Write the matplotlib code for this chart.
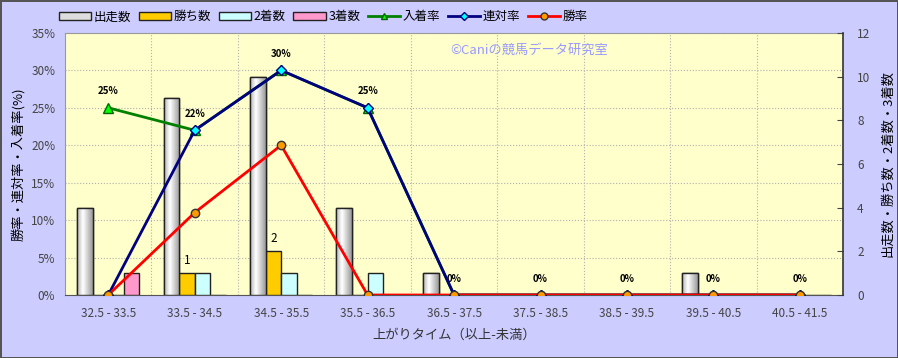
import matplotlib.pyplot as plt
import numpy as np
from matplotlib.patches import Patch
from matplotlib.lines import Line2D

plt.rcParams['font.family'] = ['Noto Sans CJK JP', 'DejaVu Sans']

categories = ["32.5 - 33.5", "33.5 - 34.5", "34.5 - 35.5", "35.5 - 36.5", "36.5 - 37.5",
              "37.5 - 38.5", "38.5 - 39.5", "39.5 - 40.5", "40.5 - 41.5"]
runs = [4, 9, 10, 4, 1, 0, 0, 1, 0]
wins = [0, 1, 2, 0, 0, 0, 0, 0, 0]
seconds = [0, 1, 1, 1, 0, 0, 0, 0, 0]
thirds = [1, 0, 0, 0, 0, 0, 0, 0, 0]
place_rate = [25, 22, 30, 25, 0, 0, 0, 0, 0]
quinella_rate = [0, 22, 30, 25, 0, 0, 0, 0, 0]
win_rate = [0, 11, 20, 0, 0, 0, 0, 0, 0]

x = np.arange(len(categories))
w = 0.18

fig = plt.figure(figsize=(8.98, 3.58), dpi=100)
fig.patch.set_facecolor('#CCCCFF')
fig.patch.set_edgecolor('#555555')
fig.patch.set_linewidth(2)

# background axis: left scale, grid
ax = fig.add_axes([0.0724, 0.176, 0.8665, 0.732])
ax.set_facecolor('#FFFFCC')
ax.set_xlim(-0.5, len(categories) - 0.5)
ax.set_ylim(0, 35)
ax.set_yticks(np.arange(0, 36, 5))
ax.set_yticklabels([f"{v}%" for v in range(0, 36, 5)], color='#444444', fontsize=8.5)
ax.set_xticks(x)
ax.set_xticklabels(categories, color='#444444', fontsize=8.5)
ax.set_xticks(np.arange(0.5, len(categories) - 1, 1), minor=True)
ax.tick_params(axis='both', which='both', length=0)
ax.tick_params(axis='x', pad=9)
ax.tick_params(axis='y', pad=7)
ax.grid(True, axis='y', color='#b0b0b0', linestyle=':', linewidth=0.8)
ax.grid(True, axis='x', which='minor', color='#b0b0b0', linestyle=':', linewidth=0.8)
for s in ['top', 'left']:
    ax.spines[s].set_color('#999999')
ax.spines['bottom'].set_color('#555555')
ax.spines['right'].set_visible(False)
ax.set_ylabel("勝率・連対率・入着率(%)", fontsize=9.5)
ax.set_xlabel("上がりタイム（以上-未満）", fontsize=9.5, color='#333333', labelpad=6)

# bars on right scale
ax2 = ax.twinx()
ax2.set_ylim(0, 12)
ax2.set_yticks(np.arange(0, 13, 2))
ax2.tick_params(axis='y', direction='in', length=4, colors='#444444', labelsize=8.5, pad=10)
ax2.spines['right'].set_color('#333333')
ax2.spines['right'].set_linewidth(1.2)
for s in ['top', 'left', 'bottom']:
    ax2.spines[s].set_visible(False)
ax2.set_ylabel("出走数・勝ち数・2着数・3着数", fontsize=9.5, labelpad=8)

b_runs = ax2.bar(x - 1.5 * w, runs, w, color='white', edgecolor='#222222', linewidth=1, zorder=2)
ax2.bar(x - 0.5 * w, wins, w, color='#FFCC00', edgecolor='#222222', linewidth=1, zorder=2)
ax2.bar(x + 0.5 * w, seconds, w, color='#CCFFFF', edgecolor='#222222', linewidth=1, zorder=2)
ax2.bar(x + 1.5 * w, thirds, w, color='#FF99CC', edgecolor='#222222', linewidth=1, zorder=2)

grad = np.concatenate([np.linspace(0.7, 1.0, 30), np.linspace(1.0, 0.6, 50)])[None, :]
for b in b_runs:
    if b.get_height() > 0:
        im = ax2.imshow(grad, extent=[b.get_x(), b.get_x() + b.get_width(), 0, b.get_height()],
                        aspect='auto', cmap='gray', vmin=0, vmax=1, zorder=2.5)
        im.set_clip_path(b)
        ax2.bar(b.get_x() + b.get_width() / 2, b.get_height(), b.get_width(), fill=False,
                edgecolor='#222222', linewidth=1, zorder=3)

for i, v in enumerate(wins):
    if v > 0:
        ax2.text(x[i] - 0.5 * w, v + 0.3, str(v), ha='center', va='bottom', fontsize=8.5)

ax2.set_xlim(-0.5, len(categories) - 0.5)

# lines on left scale
ax3 = ax.twinx()
ax3.set_ylim(0, 35)
ax3.set_xlim(-0.5, len(categories) - 0.5)
ax3.axis('off')
ax3.plot(x, place_rate, color='#008000', lw=2, marker='^', ms=7, mfc='#00FF00', mec='#006600', zorder=3)
ax3.plot(x, quinella_rate, color='#000080', lw=2, marker='D', ms=5, mfc='#00FFFF', mec='#000080', zorder=4)
ax3.plot(x, win_rate, color='#FF0000', lw=2, marker='o', ms=6, mfc='#FF9900', mec='#333333', zorder=5)
for i, v in enumerate(place_rate):
    ax3.text(x[i], v + 2.2, f"{v}%", ha='center', va='center', fontsize=7, fontweight='bold')

ax3.text(0.495, 0.935, "©Caniの競馬データ研究室", transform=ax3.transAxes, color='#9999FF',
         fontsize=9.5, ha='left', va='center')

handles = [
    Patch(facecolor='#DDDDDD', edgecolor='#222222', label='出走数'),
    Patch(facecolor='#FFCC00', edgecolor='#222222', label='勝ち数'),
    Patch(facecolor='#CCFFFF', edgecolor='#222222', label='2着数'),
    Patch(facecolor='#FF99CC', edgecolor='#222222', label='3着数'),
    Line2D([], [], color='#008000', lw=2, marker='^', ms=5, mfc='#00FF00', mec='#006600', label='入着率'),
    Line2D([], [], color='#000080', lw=2, marker='D', ms=4, mfc='#00FFFF', mec='#000080', label='連対率'),
    Line2D([], [], color='#FF0000', lw=2, marker='o', ms=5, mfc='#FF9900', mec='#333333', label='勝率'),
]
fig.legend(handles=handles, loc='center', bbox_to_anchor=(0.36, 0.953), ncol=7, frameon=False,
           fontsize=9, handlelength=2.6, handleheight=0.6, columnspacing=0.6, handletextpad=0.2)

fig.savefig('out.png', dpi=100, facecolor=fig.get_facecolor(), edgecolor=fig.get_edgecolor())
